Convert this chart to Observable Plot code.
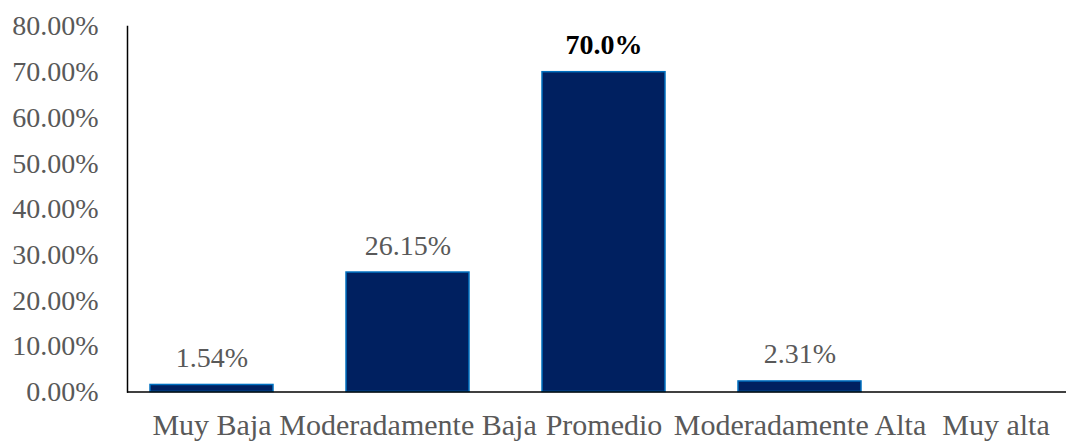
<!DOCTYPE html>
<html>
<head>
<meta charset="utf-8">
<script src="https://cdn.jsdelivr.net/npm/d3@7"></script>
<script src="https://cdn.jsdelivr.net/npm/@observablehq/plot@0.6"></script>
<style>
  html, body { margin: 0; padding: 0; background: #fff; }
  svg { display: block; }
  svg, svg text { font-family: "Liberation Serif", "Times New Roman", Times, serif !important; }
</style>
</head>
<body>
<div id="chart"></div>
<script>
const categories = ["Muy Baja", "Moderadamente Baja", "Promedio", "Moderadamente Alta", "Muy alta"];
const values = [1.54, 26.15, 70.0, 2.31, 0];
const valueLabels = ["1.54%", "26.15%", "70.0%", "2.31%", ""];
const labelBold = [false, false, true, false, false];
const yTicks = [0, 10, 20, 30, 40, 50, 60, 70, 80];

const data = categories.map((c, i) => ({cat: c, v: values[i], label: valueLabels[i], bold: labelBold[i]}));

const chart = Plot.plot({
  width: 1066,
  height: 441,
  marginLeft: 127,
  marginRight: 0,
  marginTop: 26,
  marginBottom: 49.5,
  style: {fontSize: "28px", color: "#595959", background: "#fff"},
  x: {domain: categories, range: [148, 1060], paddingInner: 0.37, paddingOuter: 0, label: null},
  y: {domain: [0, 80], label: null},
  marks: [
    Plot.barY(data.filter(d => d.v > 0), {x: "cat", y: "v", fill: "#002060", stroke: "#0070C0", strokeWidth: 1.5}),
    Plot.frame({anchor: "left", stroke: "#000", strokeWidth: 1.5}),
    Plot.ruleY([0], {stroke: "#000", strokeWidth: 1.5}),
    Plot.axisY({ticks: yTicks, tickSize: 0, tickPadding: 29, tickFormat: d => d.toFixed(2) + "%", label: null, fill: "#595959", fontSize: 28}),
    Plot.axisX({tickSize: 0, tickPadding: 22, label: null, fill: "#595959", fontSize: 30}),
    Plot.text(data.filter(d => d.label && !d.bold), {x: "cat", y: "v", text: "label", lineAnchor: "bottom", dy: -18, fill: "#595959", fontSize: 28}),
    Plot.text(data.filter(d => d.label && d.bold), {x: "cat", y: "v", text: "label", lineAnchor: "bottom", dy: -18, fill: "#000", fontSize: 28, fontWeight: "bold"})
  ]
});
document.getElementById("chart").appendChild(chart);
</script>
</body>
</html>
